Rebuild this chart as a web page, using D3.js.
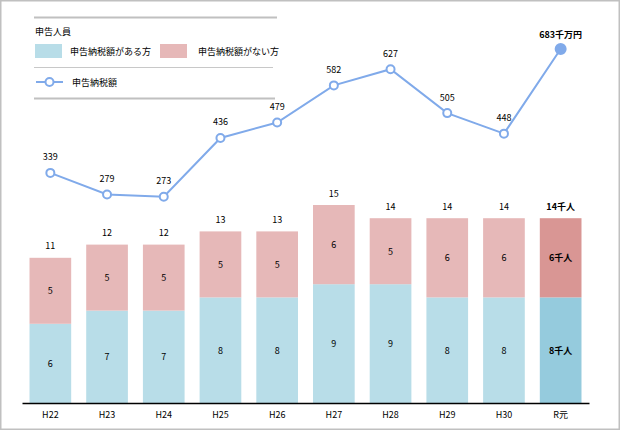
<!DOCTYPE html>
<html><head><meta charset="utf-8">
<script src="https://cdn.jsdelivr.net/npm/d3@7"></script>
<style>body{margin:0;background:#fff}svg{display:block}text{font-family:"Noto Sans CJK JP","Noto Sans",sans-serif}</style>
</head><body><svg id="c" width="620" height="430"></svg>
<script>
const categories = ["H22","H23","H24","H25","H26","H27","H28","H29","H30","R元"];
const withTax = [6,7,7,8,8,9,9,8,8,8];
const withoutTax = [5,5,5,5,5,6,5,6,6,6];
const totals = [11,12,12,13,13,15,14,14,14,14];
const taxAmount = [339,279,273,436,479,582,627,505,448,683];
const legendLabels = ["申告人員","申告納税額がある方","申告納税額がない方","申告納税額"];

const svg = d3.select("#c");
const W = 620, H = 430;
svg.append("rect").attr("x",0.75).attr("y",0.75).attr("width",W-1.5).attr("height",H-1.5)
  .attr("fill","#fff").attr("stroke","#c0c0c0").attr("stroke-width",1.5);

const x = d3.scaleBand().domain(categories).range([22,589]).paddingInner(0.265).paddingOuter(0.1325);
const y = d3.scaleLinear().domain([0,15]).range([403,205]);
const yl = d3.scaleLinear().domain([0,683]).range([295,49]);
const last = categories.length-1;
const cBlue = (i)=> i===last ? "#95cbdd" : "#b8dde8";
const cPink = (i)=> i===last ? "#d99694" : "#e6b8b8";

const g = svg.append("g");
g.selectAll(".b1").data(withTax).join("rect")
  .attr("x",(d,i)=>x(categories[i])).attr("width",x.bandwidth())
  .attr("y",d=>y(d)).attr("height",d=>y(0)-y(d)).attr("fill",(d,i)=>cBlue(i));
g.selectAll(".b2").data(withoutTax).join("rect")
  .attr("x",(d,i)=>x(categories[i])).attr("width",x.bandwidth())
  .attr("y",(d,i)=>y(withTax[i]+d)).attr("height",(d,i)=>y(withTax[i])-y(withTax[i]+d)).attr("fill",(d,i)=>cPink(i));

const cx = i => x(categories[i]) + x.bandwidth()/2;
const lblStyle = (s, bold)=> s.attr("font-size",9).attr("fill","#000").attr("text-anchor","middle").attr("dominant-baseline","central").attr("font-weight",bold?"bold":"normal");

g.selectAll(".l1").data(withTax).join("text")
  .attr("x",(d,i)=>cx(i)).attr("y",d=>(y(0)+y(d))/2)
  .text((d,i)=> i===last ? d+"千人" : d)
  .each(function(d,i){lblStyle(d3.select(this), i===last);});
g.selectAll(".l2").data(withoutTax).join("text")
  .attr("x",(d,i)=>cx(i)).attr("y",(d,i)=>(y(withTax[i])+y(withTax[i]+d))/2)
  .text((d,i)=> i===last ? d+"千人" : d)
  .each(function(d,i){lblStyle(d3.select(this), i===last);});
g.selectAll(".l3").data(totals).join("text")
  .attr("x",(d,i)=>cx(i)).attr("y",d=>y(d)-12)
  .text((d,i)=> i===last ? d+"千人" : d)
  .each(function(d,i){lblStyle(d3.select(this), i===last);});

const ax = svg.append("g").attr("transform","translate(0,403)").call(d3.axisBottom(x).tickSize(0).tickPadding(9));
ax.select(".domain").attr("stroke","#000").attr("stroke-width",1.5);
ax.selectAll("text").attr("font-size",9).attr("fill","#000").attr("font-family","\"Noto Sans CJK JP\",sans-serif");

const lineColor = "#80aaea";
const line = d3.line().x((d,i)=>cx(i)).y(d=>yl(d));
svg.append("path").datum(taxAmount).attr("d",line).attr("fill","none").attr("stroke",lineColor).attr("stroke-width",2);
svg.selectAll(".pt").data(taxAmount).join("circle")
  .attr("cx",(d,i)=>cx(i)).attr("cy",d=>yl(d)).attr("r",(d,i)=> i===last?5:4)
  .attr("fill",(d,i)=> i===last?lineColor:"#fff").attr("stroke",lineColor).attr("stroke-width",2);
svg.selectAll(".pl").data(taxAmount).join("text")
  .attr("x",(d,i)=>cx(i)).attr("y",(d,i)=>yl(d)-(i===last?15:16))
  .text((d,i)=> i===last ? d+"千万円" : d)
  .each(function(d,i){lblStyle(d3.select(this), i===last);});

const lg = svg.append("g");
lg.append("line").attr("x1",34).attr("x2",277).attr("y1",17.5).attr("y2",17.5).attr("stroke","#c0c0c0").attr("stroke-width",2);
lg.append("text").attr("x",35).attr("y",31).attr("font-size",9).attr("dominant-baseline","central").attr("fill","#000").text(legendLabels[0]);
lg.append("rect").attr("x",35).attr("y",44).attr("width",27).attr("height",14).attr("fill","#b8dde8");
lg.append("text").attr("x",70).attr("y",51).attr("font-size",9).attr("dominant-baseline","central").attr("fill","#000").text(legendLabels[1]);
lg.append("rect").attr("x",160).attr("y",44).attr("width",27).attr("height",14).attr("fill","#e6b8b8");
lg.append("text").attr("x",198).attr("y",51).attr("font-size",9).attr("dominant-baseline","central").attr("fill","#000").text(legendLabels[2]);
lg.append("line").attr("x1",34).attr("x2",273).attr("y1",67.5).attr("y2",67.5).attr("stroke","#c8c8c8").attr("stroke-width",1);
lg.append("line").attr("x1",36).attr("x2",63).attr("y1",82).attr("y2",82).attr("stroke",lineColor).attr("stroke-width",2);
lg.append("circle").attr("cx",49.5).attr("cy",82).attr("r",4).attr("fill","#fff").attr("stroke",lineColor).attr("stroke-width",2);
lg.append("text").attr("x",72).attr("y",82).attr("font-size",9).attr("dominant-baseline","central").attr("fill","#000").text(legendLabels[3]);
lg.append("line").attr("x1",34).attr("x2",275).attr("y1",98.5).attr("y2",98.5).attr("stroke","#c0c0c0").attr("stroke-width",2);
</script></body></html>
